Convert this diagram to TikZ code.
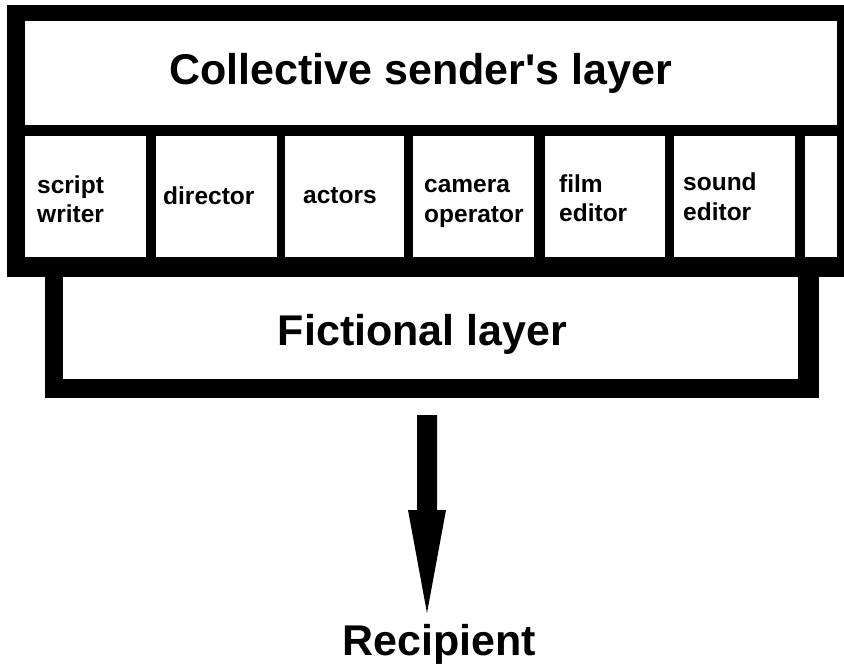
\documentclass[tikz,border=0pt]{standalone}
\usepackage{fontspec}
\setmainfont{Liberation Sans}
\begin{document}
\begin{tikzpicture}[x=1pt,y=-1pt,
  panel/.style={fill=white,draw=none,inner sep=0pt,outer sep=0pt,anchor=north west},
  cellbox/.style={panel,minimum height=121pt},
  biglabel/.style={inner sep=0pt,anchor=base,font=\fontsize{43}{50}\selectfont\bfseries},
  celllabel/.style={inner sep=0pt,anchor=base west,font=\fontsize{24.5}{29.5}\selectfont\bfseries}]
\useasboundingbox (0,0) rectangle (844,667);

% black frames: the fictional layer sits beneath the sender's layer
\fill[black] (45,268) rectangle (819,398);
\fill[black] (7,5) rectangle (844,277);

% white panels
\node[panel,minimum width=812pt,minimum height=104pt] (sender) at (25,21) {};
\node[cellbox,minimum width=121pt] (c1) at (25,136) {};
\node[cellbox,minimum width=121pt] (c2) at (156,136) {};
\node[cellbox,minimum width=119pt] (c3) at (285,136) {};
\node[cellbox,minimum width=121pt] (c4) at (413,136) {};
\node[cellbox,minimum width=120pt] (c5) at (545,136) {};
\node[cellbox,minimum width=121pt] (c6) at (674,136) {};
\node[cellbox,minimum width=32pt] (c7) at (805,136) {};
\node[panel,minimum width=735pt,minimum height=102pt] (fiction) at (63,277) {};

% labels
\node[biglabel] (senderlabel) at (420.5,84) {Collective sender\textquotesingle s layer};
\node[biglabel] (fictionlabel) at (422.5,345) {Fictional layer};
\node[biglabel] (recipient) at (439,655) {Recipient};

\node[celllabel] (l1a) at (37,193) {script};
\node[celllabel] (l1b) at (37,222) {writer};
\node[celllabel] (l2) at (163,204) {director};
\node[celllabel] (l3) at (303,203) {actors};
\node[celllabel] (l4a) at (424,192) {camera};
\node[celllabel] (l4b) at (424,222) {operator};
\node[celllabel] (l5a) at (559,192) {film};
\node[celllabel] (l5b) at (559,221) {editor};
\node[celllabel] (l6a) at (683,190) {sound};
\node[celllabel] (l6b) at (683,220) {editor};

% block arrow from the fictional layer down to the recipient
\coordinate (arrowStart) at (427,415);
\coordinate (arrowEnd) at (427,613);
\fill[black] (arrowStart) ++(-10,0) -- ++(20,0) -- ++(0,95) -- ++(9,0)
  -- (arrowEnd) -- ++(-19,-103) -- ++(9,0) -- cycle;
\end{tikzpicture}
\end{document}
